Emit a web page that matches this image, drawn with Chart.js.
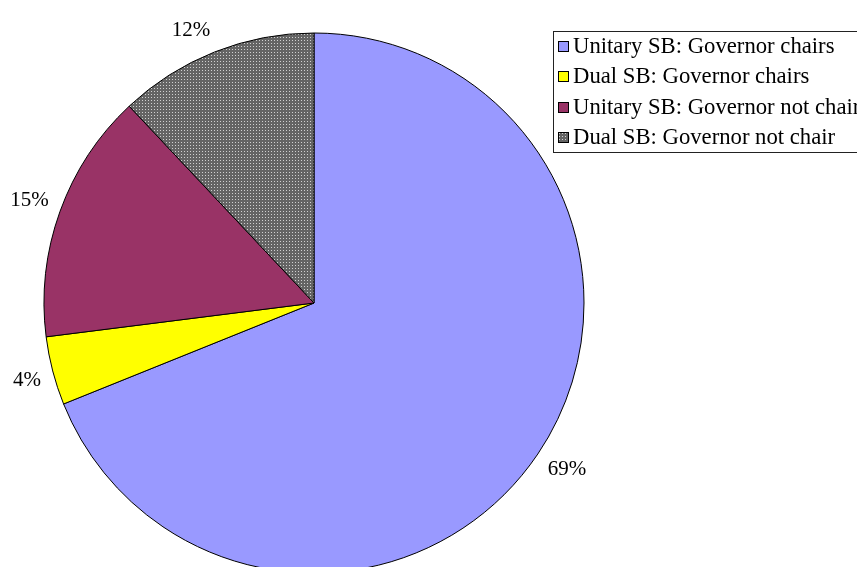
<!DOCTYPE html>
<html>
<head>
<meta charset="utf-8">
<script src="https://cdn.jsdelivr.net/npm/chart.js@4"></script>
<style>
  html, body { margin: 0; padding: 0; background: #fff; overflow: hidden; }
  #wrap { position: relative; width: 857px; height: 606px; }
</style>
</head>
<body>
<div id="wrap"><canvas id="pieChart"></canvas></div>
<script>
// chart data
const categories = [
    'Unitary SB: Governor chairs',
    'Dual SB: Governor chairs',
    'Unitary SB: Governor not chair',
    'Dual SB: Governor not chair'
];
const shares = [68.9, 4.1, 15.0, 12.0];
const shareLabels = ['69%', '4%', '15%', '12%'];

// dotted grey fill for the last slice
function makeDots() {
    const c = document.createElement('canvas');
    c.width = 3; c.height = 3;
    const g = c.getContext('2d');
    g.fillStyle = '#646464';
    g.fillRect(0, 0, 3, 3);
    g.fillStyle = '#d0d0d0';
    g.fillRect(1, 1, 1, 1);
    return g.createPattern(c, 'repeat');
}
const ctx = document.getElementById('pieChart').getContext('2d');
const dots = makeDots();
const colors = ['#9999FF', '#FFFF00', '#993366', dots];
const serif = '"Liberation Serif", "Times New Roman", serif';

// percentage labels just outside the rim, pushed away from the pie
const outsideLabels = {
    id: 'outsideLabels',
    afterDatasetsDraw(chart) {
        const c = chart.ctx;
        const arcs = chart.getDatasetMeta(0).data;
        c.save();
        c.font = '21px ' + serif;
        c.fillStyle = '#000';
        c.textAlign = 'center';
        c.textBaseline = 'middle';
        arcs.forEach((arc, i) => {
            const mid = (arc.startAngle + arc.endAngle) / 2;
            const dx = Math.cos(mid), dy = Math.sin(mid);
            const r = arc.outerRadius + 12;
            const w = c.measureText(shareLabels[i]).width, h = 22;
            const x = arc.x + dx * r + Math.sign(dx) * w / 2;
            const y = arc.y + dy * r + (Math.sign(dy) + dy) / 2 * h / 2;
            c.fillText(shareLabels[i], x, y);
        });
        c.restore();
    }
};

// boxed legend in the top right corner
const boxLegend = {
    id: 'boxLegend',
    afterDraw(chart) {
        const c = chart.ctx;
        const x0 = 553, y0 = 31, rowH = 30.3;
        c.save();
        c.fillStyle = '#fff';
        c.fillRect(x0, y0, 320, 121);
        c.strokeStyle = '#222';
        c.lineWidth = 1;
        c.strokeRect(x0 + 0.5, y0 + 0.5, 320, 121);
        c.font = '22.7px ' + serif;
        c.textBaseline = 'middle';
        categories.forEach((name, i) => {
            const cy = Math.round(y0 + 15 + i * rowH);
            c.fillStyle = colors[i];
            c.fillRect(558, cy - 5, 10, 10);
            c.strokeStyle = '#000';
            c.strokeRect(558.5, cy - 4.5, 10, 10);
            c.fillStyle = '#000';
            c.fillText(name, 573, cy + 1);
        });
        c.restore();
    }
};

new Chart(ctx, {
    type: 'pie',
    data: {
        labels: categories,
        datasets: [{
            data: shares,
            backgroundColor: colors,
            borderColor: '#000',
            borderWidth: 1,
            radius: 270
        }]
    },
    options: {
        responsive: true,
        maintainAspectRatio: false,
        animation: false,
        layout: { padding: { left: 0, top: 0, bottom: 0, right: 229 } },
        plugins: {
            legend: { display: false },
            tooltip: { enabled: false }
        }
    },
    plugins: [outsideLabels, boxLegend]
});
</script>
</body>
</html>
